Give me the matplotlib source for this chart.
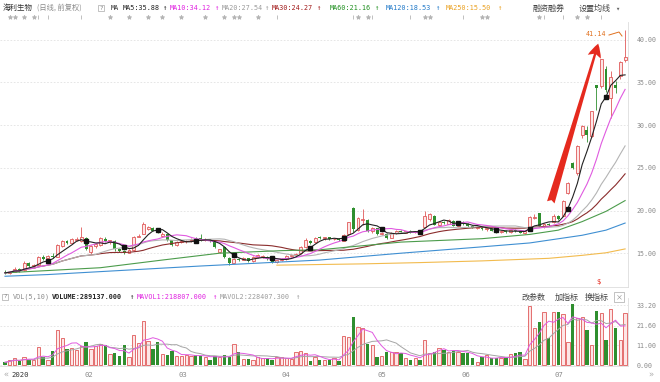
import matplotlib
matplotlib.use("Agg")
import matplotlib.pyplot as plt
import numpy as np
import pandas as pd

CJK = ["Noto Sans CJK SC", "DejaVu Sans"]
MONO = ["DejaVu Sans Mono", "Noto Sans CJK SC"]
plt.rcParams["font.family"] = CJK

# 海利生物 daily bars, 2020-01-02 .. 2020-07-20 (前复权)
opens = [
    12.80, 12.70, 12.85, 13.15, 13.00, 13.80, 13.45, 13.65, 14.50, 14.40,
    14.70, 14.60, 15.90, 16.40, 16.25, 16.60, 16.40, 16.80, 15.10, 15.85,
    15.95, 16.70, 16.35, 16.40, 15.50, 15.30, 15.05, 15.35, 16.95, 17.30,
    17.85, 17.95, 17.65, 17.00, 17.20, 16.50, 15.95, 16.30, 16.40, 16.45,
    16.70, 16.80, 16.50, 16.60, 16.30, 15.15, 15.70, 14.45, 13.90, 14.30,
    14.20, 14.40, 14.05, 14.55, 14.50, 14.60, 14.30, 13.95, 14.15, 14.30,
    14.65, 14.80, 15.00, 15.70, 16.40, 16.30, 16.85, 16.75, 16.85, 16.65,
    16.65, 16.45, 17.20, 20.30, 17.70, 18.90, 18.90, 17.60, 17.90, 17.25,
    17.30, 16.80, 17.35, 17.60, 17.40, 17.55, 17.45, 17.55, 18.10, 19.00,
    19.40, 18.35, 18.60, 18.45, 18.80, 18.20, 18.55, 18.40, 18.20, 18.00,
    18.00, 17.80, 17.85, 17.60, 17.50, 17.60, 17.45, 17.70, 17.60, 17.40,
    17.60, 19.15, 19.70, 18.15, 18.40, 18.60, 19.30, 19.40, 22.00, 25.60,
    24.40, 28.80, 29.40, 28.70, 34.70, 34.60, 36.60, 33.20, 34.70, 35.80,
    37.60,
]
highs = [
    13.05, 12.95, 13.40, 13.25, 14.10, 13.95, 13.70, 14.70, 14.75, 14.80,
    15.00, 16.10, 16.60, 16.55, 16.80, 16.85, 18.10, 16.90, 15.95, 16.20,
    16.90, 16.85, 16.60, 16.50, 15.60, 15.40, 15.50, 17.00, 17.20, 18.60,
    18.20, 18.05, 17.80, 17.45, 17.25, 16.60, 16.40, 16.50, 16.55, 16.75,
    16.85, 17.25, 16.75, 16.70, 16.40, 15.55, 15.75, 14.55, 14.40, 14.45,
    14.55, 14.45, 14.70, 14.85, 14.75, 14.65, 14.40, 14.25, 14.40, 14.75,
    14.90, 15.05, 15.80, 16.75, 16.55, 16.90, 17.00, 16.95, 16.90, 16.80,
    16.75, 17.20, 18.70, 20.45, 19.25, 20.20, 19.00, 18.10, 18.00, 17.50,
    17.40, 17.45, 17.70, 17.75, 17.65, 17.70, 17.60, 17.65, 19.90, 19.70,
    19.50, 18.70, 18.75, 18.95, 18.90, 18.60, 18.80, 18.50, 18.35, 18.15,
    18.10, 18.00, 17.95, 17.75, 17.70, 17.70, 17.80, 17.80, 17.75, 17.65,
    19.40, 19.60, 19.75, 18.50, 18.55, 19.55, 19.45, 21.20, 23.30, 25.70,
    27.70, 30.05, 29.90, 31.70, 34.75, 37.75, 36.90, 36.30, 35.20, 37.50,
    41.14,
]
lows = [
    12.60, 12.55, 12.80, 12.85, 12.95, 13.35, 13.30, 13.60, 14.20, 14.25,
    14.45, 14.55, 15.70, 16.05, 16.20, 16.40, 16.30, 15.40, 14.95, 15.60,
    15.80, 16.30, 16.10, 15.30, 15.15, 14.90, 15.00, 15.30, 16.85, 17.25,
    17.75, 17.55, 17.35, 16.90, 16.45, 15.85, 15.85, 16.15, 16.20, 16.35,
    16.40, 16.45, 16.40, 16.30, 15.60, 15.00, 14.40, 13.60, 13.80, 14.10,
    14.15, 13.95, 14.00, 14.40, 14.40, 14.20, 13.85, 13.85, 14.05, 14.25,
    14.55, 14.70, 14.95, 15.65, 16.10, 16.25, 16.65, 16.60, 16.60, 16.50,
    16.40, 16.40, 17.15, 17.50, 17.55, 18.30, 17.50, 17.40, 17.15, 17.10,
    16.65, 16.75, 17.30, 17.35, 17.35, 17.40, 17.35, 17.40, 18.00, 18.80,
    18.25, 18.20, 18.40, 18.40, 18.15, 18.10, 18.35, 18.10, 17.90, 17.80,
    17.70, 17.65, 17.55, 17.40, 17.40, 17.40, 17.40, 17.50, 17.35, 17.25,
    17.55, 19.00, 18.05, 18.00, 18.20, 18.55, 18.90, 19.30, 21.90, 24.90,
    24.10, 28.50, 28.00, 28.60, 31.80, 34.40, 33.90, 30.80, 33.80, 35.40,
    37.40,
]
closes = [
    12.70, 12.85, 13.20, 12.95, 13.90, 13.45, 13.60, 14.55, 14.35, 14.65,
    14.55, 16.00, 16.45, 16.20, 16.65, 16.70, 16.90, 15.50, 15.85, 16.05,
    16.75, 16.40, 16.50, 15.45, 15.25, 15.05, 15.40, 16.90, 17.00, 18.45,
    18.05, 17.60, 17.45, 17.25, 16.55, 15.95, 16.30, 16.40, 16.45, 16.60,
    16.55, 16.55, 16.65, 16.40, 15.70, 15.45, 14.50, 13.85, 14.30, 14.20,
    14.45, 14.05, 14.60, 14.75, 14.65, 14.30, 13.95, 14.15, 14.30, 14.65,
    14.80, 14.95, 15.70, 16.50, 16.25, 16.80, 16.75, 16.85, 16.65, 16.70,
    16.50, 17.10, 18.60, 17.80, 19.10, 19.05, 17.65, 17.95, 17.25, 17.40,
    16.75, 17.35, 17.60, 17.45, 17.55, 17.50, 17.55, 17.50, 19.40, 19.55,
    18.35, 18.60, 18.50, 18.85, 18.20, 18.50, 18.45, 18.20, 18.00, 18.05,
    17.80, 17.90, 17.60, 17.50, 17.65, 17.45, 17.70, 17.60, 17.40, 17.55,
    19.20, 19.25, 18.15, 18.40, 18.30, 19.40, 19.05, 21.10, 23.25, 25.00,
    27.55, 29.95, 28.85, 31.60, 34.30, 37.70, 34.10, 35.60, 34.30, 37.40,
    38.00,
]
# volume in 万股
volumes = [
    1.5, 2.5, 4.0, 2.2, 4.6, 2.8, 2.6, 10.0, 4.5, 3.0,
    8.0, 19.4, 15.0, 8.8, 9.5, 8.5, 10.5, 12.5, 9.0, 10.5,
    11.5, 11.0, 6.0, 6.5, 5.0, 11.0, 4.5, 16.6, 12.0, 24.4,
    13.5, 9.0, 13.0, 6.0, 5.5, 7.5, 5.0, 5.0, 5.5, 5.0,
    5.5, 5.0, 4.5, 3.0, 5.0, 4.5, 5.5, 4.5, 11.5, 7.0,
    3.5, 3.2, 2.5, 4.5, 4.0, 3.8, 2.5, 4.2, 4.5, 4.0,
    3.2, 7.0, 8.0, 6.5, 2.4, 4.5, 2.5, 2.8, 2.8, 3.8,
    2.2, 16.2, 15.5, 26.3, 21.2, 20.3, 11.4, 11.0, 4.6, 5.2,
    7.4, 7.0, 7.0, 6.5, 4.0, 2.8, 3.8, 2.8, 13.8, 6.5,
    7.4, 9.2, 8.3, 7.4, 7.8, 7.4, 6.5, 6.5, 3.7, 1.5,
    4.6, 5.5, 3.7, 3.7, 3.7, 4.0, 6.0, 6.5, 7.4, 3.2,
    32.8, 20.7, 23.6, 29.2, 15.1, 29.5, 29.5, 28.2, 12.5, 33.5,
    25.8, 26.7, 19.4, 11.1, 29.9, 28.6, 13.8, 31.0, 20.7, 13.8,
    28.9,
]

# long moving averages (history before 2020 not shown)
ma60_days = [0, 20, 33, 45, 58, 66, 83, 100, 110, 116, 121, 126, 130]
ma60_vals = [12.7, 13.3, 14.2, 15.0, 15.3, 15.4, 16.3, 16.7, 17.2, 17.7, 18.7, 19.9, 21.16]
ma120_days = [0, 9, 41, 66, 83, 99, 110, 121, 126, 130]
ma120_vals = [12.3, 12.5, 13.5, 14.2, 15.0, 15.7, 16.2, 17.1, 17.7, 18.53]
ma250_days = [57, 75, 87, 100, 114, 121, 126, 130]
ma250_vals = [13.6, 13.75, 13.9, 14.1, 14.4, 14.75, 15.05, 15.5]

month_labels = ["2020", "02", "03", "04", "05", "06", "07"]
month_pos = [3.1, 17.6, 37.3, 58.9, 79.0, 96.6, 116.2]
price_ticks = [15, 20, 25, 30, 35, 40]
vol_ticks = [0.0, 11.0, 21.6, 33.2]

# news / event flags in the strip above the chart: '*' or 'I'
event_days = [1, 2, 4, 6, 7, 9, 16, 22, 26, 30, 33, 37, 42, 46, 48, 49, 53, 57,
              73, 74, 76, 77, 85, 88, 89, 96, 100, 101, 112, 113, 117, 120, 122, 125]
event_kinds = "****III**********II**II**I***II**II"[:len(event_days)]
square_days = [9, 17, 25, 32, 40, 48, 56, 64, 71, 79, 87, 95, 103, 110, 118, 126]

UP_EDGE = "#e05a5a"
UP_FILL = "#fde6e6"
DOWN = "#2f8f2f"
W, H = 660, 382


def fx(px):
    return px / W


def fy(py):
    return 1 - py / H


fig = plt.figure(figsize=(6.6, 3.82), dpi=100)
fig.patch.set_facecolor("white")
ax = fig.add_axes([0, fy(287), fx(628), (287 - 22) / H])
vax = fig.add_axes([0, fy(366), fx(628), (366 - 298) / H], sharex=ax)

idx = np.arange(len(closes))
o, h, l, c = (np.array(a) for a in (opens, highs, lows, closes))
up = c >= o
body_lo = np.minimum(o, c)
body_h = np.maximum(np.abs(c - o), 0.05)

ax.vlines(idx[up], l[up], h[up], color=UP_EDGE, lw=0.6, zorder=2)
ax.vlines(idx[~up], l[~up], h[~up], color=DOWN, lw=0.6, zorder=2)
ax.bar(idx[up], body_h[up], 0.62, body_lo[up], facecolor=UP_FILL,
       edgecolor=UP_EDGE, lw=0.6, zorder=3)
ax.bar(idx[~up], body_h[~up], 0.62, body_lo[~up], color=DOWN, lw=0, zorder=3)

close_s = pd.Series(closes)
ma = {n: close_s.rolling(n, min_periods=1).mean() for n in (5, 10, 20, 30)}
ax.plot(idx, ma[30], color="#8b2d2d", lw=0.8, zorder=4)
ax.plot(idx, ma[20], color="#b4b4b4", lw=0.8, zorder=4)
ax.plot(ma60_days, ma60_vals, color="#4c9c4c", lw=0.8, zorder=4)
ax.plot(ma120_days, ma120_vals, color="#3f8fd2", lw=0.8, zorder=4)
ax.plot(ma250_days, ma250_vals, color="#f2bb4e", lw=0.8, zorder=4)
ax.plot(idx, ma[10], color="#e05ae0", lw=0.8, zorder=4)
ax.plot(idx, ma[5], color="#222222", lw=0.8, zorder=5)
ax.plot(square_days, ma[5][square_days], ls="none", marker="s", ms=2.3,
        color="#111111", zorder=6)

ax.set_xlim(-5 / 4.77, 623 / 4.77)
ax.set_ylim(40 - (287 - 39.7) / 8.54, 40 + (39.7 - 22) / 8.54)
ax.set_yticks(price_ticks)
ax.set_yticklabels([f"{t:.2f}" for t in price_ticks], family=MONO)
ax.yaxis.tick_right()
ax.tick_params(axis="y", length=0, pad=6, labelsize=4.8, labelcolor="#8a8a8a")
ax.tick_params(axis="x", bottom=False, labelbottom=False)
ax.grid(axis="y", ls=(0, (2, 2)), color="#e2e2e2", lw=0.6)
for side in ("top", "left"):
    ax.spines[side].set_visible(False)
for side in ("right", "bottom"):
    ax.spines[side].set_color("#dddddd")
    ax.spines[side].set_linewidth(0.6)

# volume panel
v = np.array(volumes)
vax.bar(idx[up], v[up], 0.7, facecolor=UP_FILL, edgecolor=UP_EDGE, lw=0.6, zorder=3)
vax.bar(idx[~up], v[~up], 0.7, color=DOWN, lw=0, zorder=3)
vol_s = pd.Series(volumes)
vax.plot(idx, vol_s.rolling(10, min_periods=1).mean(), color="#a5a5a5", lw=0.7, zorder=4)
vax.plot(idx, vol_s.rolling(5, min_periods=1).mean(), color="#e05ae0", lw=0.7, zorder=4)
vax.set_ylim(-1 / 1.807, (365 - 298) / 1.807)
vax.set_yticks(vol_ticks)
vax.set_yticklabels([f"{t:.2f}" for t in vol_ticks], family=MONO)
vax.yaxis.tick_right()
vax.tick_params(axis="y", length=0, pad=6, labelsize=4.8, labelcolor="#8a8a8a")
vax.grid(axis="y", ls=(0, (2, 2)), color="#e2e2e2", lw=0.6)
vax.set_xticks(month_pos)
vax.set_xticklabels(month_labels, family=MONO)
vax.tick_params(axis="x", length=0, pad=4, labelsize=5.2, labelcolor="#8a8a8a")
vax.get_xticklabels()[0].set_color("#333333")
for side in ("top", "left"):
    vax.spines[side].set_visible(False)
for side in ("right", "bottom"):
    vax.spines[side].set_color("#dddddd")
    vax.spines[side].set_linewidth(0.6)


def label(x, y, text, color, size=4.9, family=MONO, **kw):
    fig.text(fx(x), fy(y), text, color=color, fontsize=size, family=family,
             va="center", ha="left", **kw)


def qbox(x, y):
    fig.text(fx(x), fy(y), "?", color="#888888", fontsize=4.3, family=MONO,
             va="center", ha="left",
             bbox=dict(boxstyle="square,pad=0.15", fc="white", ec="#aaaaaa", lw=0.5))


# header line
label(3, 8, "海利生物", "#333333", 5.4, CJK)
label(37, 8, "(日线, 前复权)", "#8a8a8a", 5.2, CJK)
qbox(99, 8)
label(111, 8, "MA", "#333333")
ma_header = [
    (123, 162, "MA5:35.88", "#222222"),
    (170, 214, "MA10:34.12", "#e020e0"),
    (222, 264, "MA20:27.54", "#9a9a9a"),
    (272, 316, "MA30:24.27", "#a01818"),
    (330, 374, "MA60:21.16", "#1f8f1f"),
    (386, 435, "MA120:18.53", "#1f78c8"),
    (446, 497, "MA250:15.50", "#eaa020"),
]
for x, ax_arrow, text, col in ma_header:
    label(x, 8, text, col)
    label(ax_arrow, 8, "↑", col, 5.2)
label(533, 8, "融资融券", "#444444", 5.8, CJK)
label(579, 8, "设置均线", "#444444", 5.8, CJK)
label(615, 8, "▾", "#666666", 5)

# event flags strip
tr = ax.get_xaxis_transform()
for d, k in zip(event_days, event_kinds):
    ax.plot(d, 1 + (22 - 17) / 265, marker="*" if k == "*" else "|", ms=3.2,
            color="#b5b5b5", mew=0.6, transform=tr, clip_on=False, ls="none")

# volume header
qbox(3, 297)
label(13, 297, "VOL(5,10)", "#8a8a8a")
label(52, 297, "VOLUME:289137.000", "#222222", weight="bold")
label(129, 297, "↑", "#222222", 5.2)
label(137, 297, "MAVOL1:218807.000", "#e020e0")
label(212, 297, "↑", "#e020e0", 5.2)
label(220, 297, "MAVOL2:228407.300", "#9a9a9a")
label(295, 297, "↑", "#9a9a9a", 5.2)
label(522, 297, "改参数", "#444444", 5.8, CJK)
label(555, 297, "加指标", "#444444", 5.8, CJK)
label(585, 297, "换指标", "#444444", 5.8, CJK)
fig.text(fx(619), fy(297), "×", color="#888888", fontsize=5, ha="center", va="center",
         bbox=dict(boxstyle="square,pad=0.15", fc="white", ec="#aaaaaa", lw=0.5))

# x axis arrows
label(3, 375, "«", "#aaaaaa", 6)
label(648, 375, "»", "#aaaaaa", 6)

# rally arrow and high annotation
ax.annotate("", xy=(fx(599), fy(41)), xytext=(fx(550), fy(205)),
            xycoords="figure fraction", textcoords="figure fraction",
            arrowprops=dict(arrowstyle="fancy,head_length=0.7,head_width=0.7,tail_width=0.4",
                            color="#e52a1e", lw=0, mutation_scale=14))
label(586, 34, f"{max(highs):.2f}", "#e0701e", 4.9)
fig.add_artist(plt.Line2D([fx(609), fx(619), fx(622)], [fy(35), fy(32), fy(36)],
                          color="#e0701e", lw=0.7))
label(596, 282, "$", "#e52a1e", 5)

fig.savefig("out.png", dpi=100, facecolor="white")
